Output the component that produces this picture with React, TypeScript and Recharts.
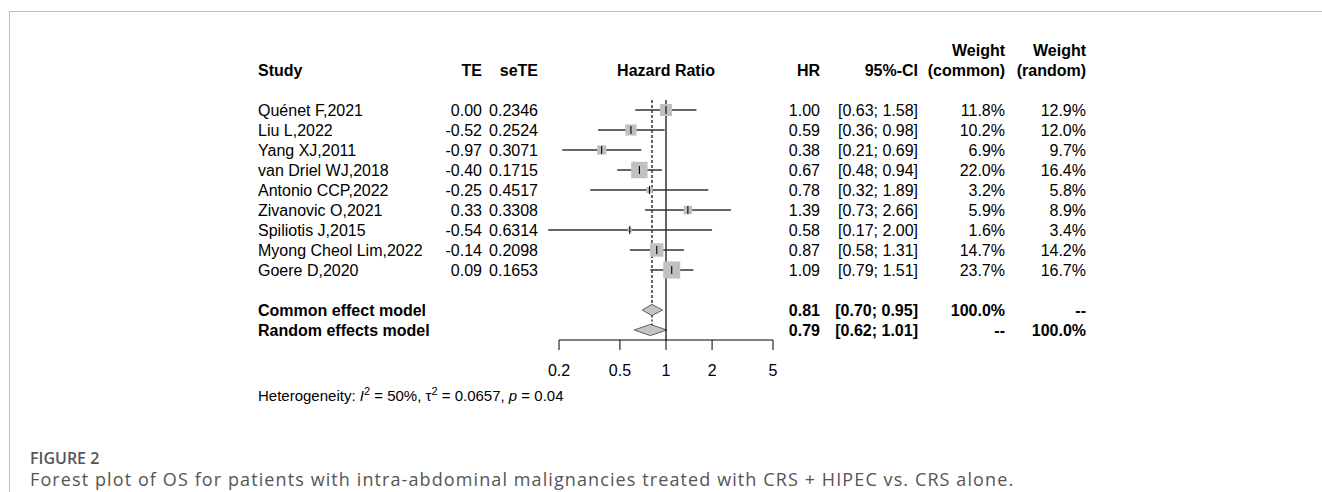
import React from 'react';
import { Area, ComposedChart, ReferenceLine, Scatter, XAxis, YAxis } from 'recharts';

// individual studies
const studies = [
  'Quénet F,2021',
  'Liu L,2022',
  'Yang XJ,2011',
  'van Driel WJ,2018',
  'Antonio CCP,2022',
  'Zivanovic O,2021',
  'Spiliotis J,2015',
  'Myong Cheol Lim,2022',
  'Goere D,2020',
];
const te = [0.0, -0.52, -0.97, -0.4, -0.25, 0.33, -0.54, -0.14, 0.09];
const seTe = ['0.2346', '0.2524', '0.3071', '0.1715', '0.4517', '0.3308', '0.6314', '0.2098', '0.1653'];
const hr = [1.0, 0.59, 0.38, 0.67, 0.78, 1.39, 0.58, 0.87, 1.09];
const ciLow = [0.63, 0.36, 0.21, 0.48, 0.32, 0.73, 0.17, 0.58, 0.79];
const ciHigh = [1.58, 0.98, 0.69, 0.94, 1.89, 2.66, 2.0, 1.31, 1.51];
const weightCommon = [11.8, 10.2, 6.9, 22.0, 3.2, 5.9, 1.6, 14.7, 23.7];
const weightRandom = [12.9, 12.0, 9.7, 16.4, 5.8, 8.9, 3.4, 14.2, 16.7];

// pooled estimates
const poolLabels = ['Common effect model', 'Random effects model'];
const poolRows = [10, 11];
const poolHr = [0.81, 0.79];
const poolLow = [0.7, 0.62];
const poolHigh = [0.95, 1.01];
const poolWeightCommon = ['100.0%', '--'];
const poolWeightRandom = ['--', '100.0%'];

const xTicks = [0.2, 0.5, 1, 2, 5];

const FONT = '"Liberation Sans", Arial, Helvetica, sans-serif';
const CAPTION_FONT = '"Open Sans", "Noto Sans", sans-serif';
const DIAMOND_H = 0.28;

const studyRows = studies.map((s, i) => ({ x: hr[i], y: i, w: weightCommon[i] }));
const diamonds = poolRows.map((row, k) => [
  { x: poolLow[k], band: [row, row] },
  { x: poolHr[k], band: [row - DIAMOND_H, row + DIAMOND_H] },
  { x: poolHigh[k], band: [row, row] },
]);
const rowTicks = [...studies.map((_, i) => i), ...poolRows];

const ci = (lo: number, hi: number) => `[${lo.toFixed(2)}; ${hi.toFixed(2)}]`;
const pct = (v: number) => `${v.toFixed(1)}%`;

// column anchors (right edge unless noted)
const COL = { study: 258, te: 482, se: 538, hr: 820, ci: 918, wc: 1005, wr: 1086 };

function Cell({ x, y, text, start, bold }: { x: number; y: number; text: string; start?: boolean; bold?: boolean }) {
  return (
    <text
      x={x}
      y={y}
      dy="0.355em"
      textAnchor={start ? 'start' : 'end'}
      fontFamily={FONT}
      fontSize={16}
      fontWeight={bold ? 'bold' : 'normal'}
      fill="#000"
    >
      {text}
    </text>
  );
}

function RowText(props: any) {
  const { y, payload } = props;
  const i = payload.value as number;
  if (i < studies.length) {
    return (
      <g>
        <Cell x={COL.study} y={y} text={studies[i]} start />
        <Cell x={COL.te} y={y} text={te[i].toFixed(2)} />
        <Cell x={COL.se} y={y} text={seTe[i]} />
        <Cell x={COL.hr} y={y} text={hr[i].toFixed(2)} />
        <Cell x={COL.ci} y={y} text={ci(ciLow[i], ciHigh[i])} />
        <Cell x={COL.wc} y={y} text={pct(weightCommon[i])} />
        <Cell x={COL.wr} y={y} text={pct(weightRandom[i])} />
      </g>
    );
  }
  const k = poolRows.indexOf(i);
  return (
    <g>
      <Cell x={COL.study} y={y} text={poolLabels[k]} start bold />
      <Cell x={COL.hr} y={y} text={poolHr[k].toFixed(2)} bold />
      <Cell x={COL.ci} y={y} text={ci(poolLow[k], poolHigh[k])} bold />
      <Cell x={COL.wc} y={y} text={poolWeightCommon[k]} bold />
      <Cell x={COL.wr} y={y} text={poolWeightRandom[k]} bold />
    </g>
  );
}

function Square(props: any) {
  const { cx, cy, payload } = props;
  const s = 3.5 * Math.sqrt(payload.w);
  return (
    <g>
      <rect x={cx - s / 2} y={cy - s / 2} width={s} height={s} fill="#c0c0c0" />
      <line x1={cx} x2={cx} y1={cy - 4} y2={cy + 4} stroke="#000" strokeWidth={1.1} />
    </g>
  );
}

function Header({ text, x, y, align }: { text: string; x: number; y: number; align: 'left' | 'right' | 'center' }) {
  const style: React.CSSProperties = {
    position: 'absolute',
    top: y - 9,
    lineHeight: '18px',
    fontSize: 16,
    fontWeight: 'bold',
    fontFamily: FONT,
    whiteSpace: 'nowrap',
    color: '#000',
  };
  if (align === 'left') style.left = x;
  if (align === 'right') style.right = 1322 - x;
  if (align === 'center') {
    style.left = x;
    style.transform = 'translateX(-50%)';
  }
  return <div style={style}>{text}</div>;
}

export default function App() {
  return (
    <div style={{ position: 'absolute', left: 0, top: 0, width: 1322, height: 492, background: '#fff', overflow: 'hidden' }}>
      <div
        style={{
          position: 'absolute',
          left: 9,
          top: 11,
          width: 1320,
          height: 490,
          borderTop: '1px solid #bdbdbd',
          borderLeft: '1px solid #bdbdbd',
        }}
      />
      <Header text="Study" x={COL.study} y={71} align="left" />
      <Header text="TE" x={COL.te} y={71} align="right" />
      <Header text="seTE" x={COL.se} y={71} align="right" />
      <Header text="Hazard Ratio" x={666} y={71} align="center" />
      <Header text="HR" x={COL.hr} y={71} align="right" />
      <Header text="95%-CI" x={COL.ci} y={71} align="right" />
      <Header text="Weight" x={COL.wc} y={51} align="right" />
      <Header text="(common)" x={COL.wc} y={71} align="right" />
      <Header text="Weight" x={COL.wr} y={51} align="right" />
      <Header text="(random)" x={COL.wr} y={71} align="right" />

      <div style={{ position: 'absolute', left: 0, top: 0 }}>
        <ComposedChart width={1322} height={492} margin={{ top: 100, right: 549, bottom: 112, left: 259 }}>
          <XAxis
            type="number"
            dataKey="x"
            scale="log"
            domain={[0.2, 5]}
            ticks={xTicks}
            tickFormatter={(v) => String(v)}
            tickSize={10}
            tickMargin={15}
            stroke="#000"
            tick={{ fill: '#000', fontSize: 16, fontFamily: FONT }}
            height={40}
          />
          <YAxis
            type="number"
            dataKey="y"
            domain={[-0.5, 11.5]}
            reversed
            ticks={rowTicks}
            interval={0}
            width={300}
            axisLine={false}
            tickLine={false}
            tick={(p: any) => <RowText {...p} />}
          />
          <ReferenceLine x={1} stroke="#000" strokeWidth={1.2} />
          <ReferenceLine
            segment={[
              { x: poolHr[0], y: -0.5 },
              { x: poolHr[0], y: poolRows[0] - DIAMOND_H },
            ]}
            stroke="#000"
            strokeWidth={1.2}
            strokeDasharray="3 2"
          />
          <ReferenceLine
            segment={[
              { x: poolHr[0], y: poolRows[0] + DIAMOND_H },
              { x: poolHr[0], y: poolRows[1] - DIAMOND_H * 0.9 },
            ]}
            stroke="#000"
            strokeWidth={1.2}
            strokeDasharray="2 2"
          />
          {studies.map((s, i) => (
            <ReferenceLine
              key={s}
              segment={[
                { x: ciLow[i], y: i },
                { x: ciHigh[i], y: i },
              ]}
              ifOverflow="visible"
              stroke="#333"
              strokeWidth={1.5}
            />
          ))}
          {diamonds.map((d, k) => (
            <Area
              key={poolLabels[k]}
              data={d}
              dataKey="band"
              type="linear"
              stroke="#5f5f5f"
              strokeWidth={1}
              fill="#c4c4c4"
              fillOpacity={1}
              dot={false}
              activeDot={false}
              isAnimationActive={false}
            />
          ))}
          <Scatter data={studyRows} shape={(p: any) => <Square {...p} />} isAnimationActive={false} />
        </ComposedChart>
      </div>

      <div
        style={{
          position: 'absolute',
          left: 258,
          top: 382,
          fontFamily: FONT,
          fontSize: 15,
          lineHeight: '18px',
          whiteSpace: 'nowrap',
        }}
      >
        Heterogeneity: <i>I</i>
        <sup style={{ fontSize: 11 }}>2</sup> = 50%, τ<sup style={{ fontSize: 11 }}>2</sup> = 0.0657, <i>p</i> = 0.04
      </div>

      <div
        style={{
          position: 'absolute',
          left: 30,
          top: 449,
          fontFamily: CAPTION_FONT,
          fontSize: 16,
          fontWeight: 600,
          color: '#555',
          lineHeight: '18px',
        }}
      >
        FIGURE 2
      </div>
      <div
        style={{
          position: 'absolute',
          left: 30,
          top: 470,
          fontFamily: CAPTION_FONT,
          fontSize: 18,
          letterSpacing: 1.1,
          color: '#555',
          lineHeight: '18px',
          whiteSpace: 'nowrap',
        }}
      >
        Forest plot of OS for patients with intra-abdominal malignancies treated with CRS + HIPEC vs. CRS alone.
      </div>
    </div>
  );
}
